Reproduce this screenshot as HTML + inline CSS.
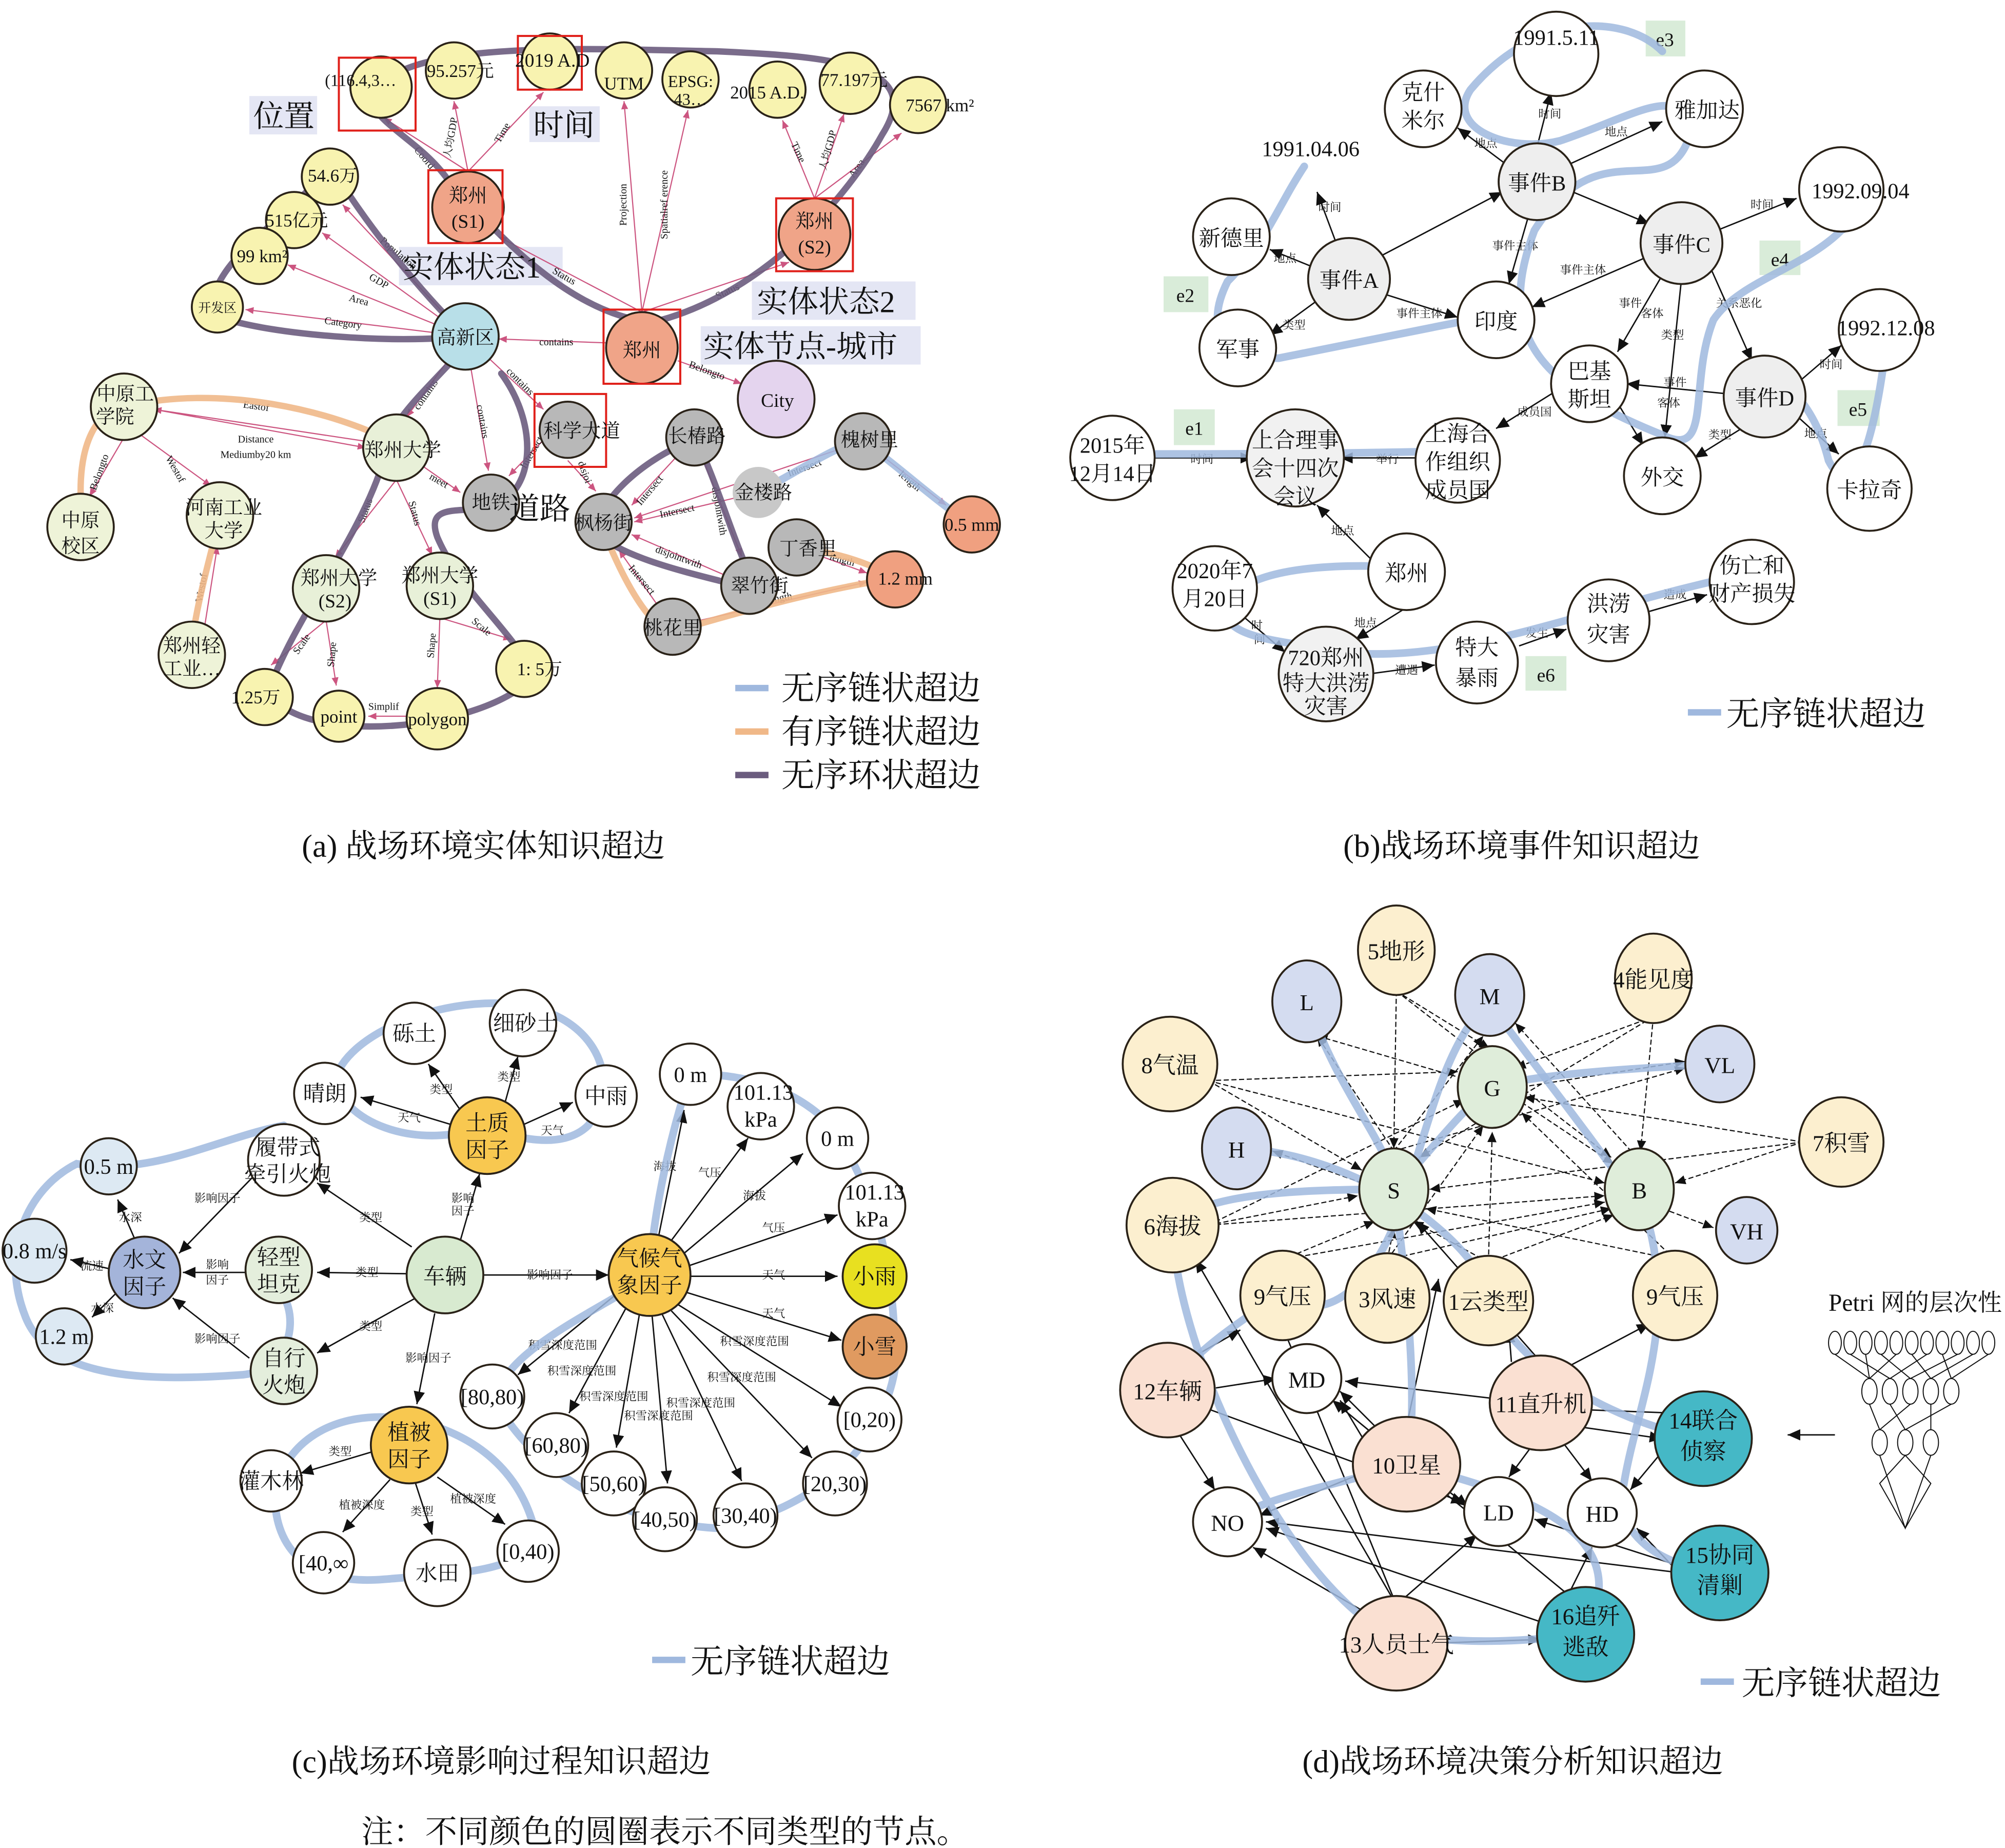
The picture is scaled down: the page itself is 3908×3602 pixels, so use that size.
<!DOCTYPE html>
<html><head><meta charset="utf-8"><style>
html,body{margin:0;padding:0;background:#fff}
svg{display:block}
text{font-family:"Liberation Serif","Noto Serif CJK SC","Noto Sans CJK SC",serif;fill:#111}
.n{stroke:#2a2218;stroke-width:1.5}
.e{stroke:#cc5580;stroke-width:0.9;fill:none}
.k{stroke:#111;stroke-width:1.1;fill:none}
.d{stroke:#111;stroke-width:0.9;fill:none;stroke-dasharray:4 2}
.hb{stroke:#9fb8de;stroke-width:6;fill:none;opacity:.85;stroke-linecap:round}
.ho{stroke:#f0b888;stroke-width:5;fill:none;opacity:.9;stroke-linecap:round}
.hp{stroke:#6b5c7e;stroke-width:5;fill:none;opacity:.9;stroke-linecap:round}
.rb{fill:none;stroke:#e0201a;stroke-width:1.6}
.t{font-size:16px;text-anchor:middle}
.s{font-size:8px;text-anchor:middle}
.lb{font-size:24px}
.lg{font-size:26px}
.cap{font-size:25px;text-anchor:middle}
</style></head><body>
<svg width="3908" height="3602" viewBox="0 0 1568 1445" xmlns="http://www.w3.org/2000/svg">
<defs>
<marker id="a" markerWidth="8" markerHeight="8" refX="7" refY="3" orient="auto"><path d="M0,0 L7,3 L0,6z" fill="#cc5580"/></marker>
<marker id="b" markerWidth="10" markerHeight="10" refX="9" refY="4" orient="auto"><path d="M0,0 L9,4 L0,8z" fill="#111"/></marker>
</defs>
<rect width="1568" height="1445" fill="#fff"/>

<!-- ================= PANEL A ================= -->
<rect x="195" y="75" width="53" height="30" fill="#e4e6f4"/>
<rect x="414" y="83" width="55" height="28" fill="#e4e6f4"/>
<rect x="312" y="193" width="128" height="30" fill="#e4e6f4"/>
<rect x="588" y="220" width="128" height="30" fill="#e4e6f4"/>
<rect x="548" y="255" width="172" height="30" fill="#e4e6f4"/>
<g>
<line class="e" x1="366" y1="134" x2="300" y2="92" marker-end="url(#a)"/>
<line class="e" x1="366" y1="134" x2="355" y2="79" marker-end="url(#a)"/>
<line class="e" x1="366" y1="134" x2="425" y2="72" marker-end="url(#a)"/>
<line class="e" x1="502" y1="244" x2="488" y2="79" marker-end="url(#a)"/>
<line class="e" x1="502" y1="244" x2="538" y2="86" marker-end="url(#a)"/>
<line class="e" x1="637" y1="155" x2="612" y2="94" marker-end="url(#a)"/>
<line class="e" x1="637" y1="155" x2="660" y2="89" marker-end="url(#a)"/>
<line class="e" x1="637" y1="155" x2="705" y2="104" marker-end="url(#a)"/>
<line class="e" x1="502" y1="244" x2="390" y2="185" marker-end="url(#a)"/>
<line class="e" x1="502" y1="244" x2="617" y2="205" marker-end="url(#a)"/>
<line class="e" x1="474" y1="268" x2="390" y2="265" marker-end="url(#a)"/>
<line class="e" x1="530" y1="282" x2="580" y2="300" marker-end="url(#a)"/>
<line class="e" x1="364" y1="263" x2="268" y2="160" marker-end="url(#a)"/>
<line class="e" x1="364" y1="263" x2="252" y2="182" marker-end="url(#a)"/>
<line class="e" x1="364" y1="263" x2="225" y2="207" marker-end="url(#a)"/>
<line class="e" x1="364" y1="263" x2="192" y2="242" marker-end="url(#a)"/>
<line class="e" x1="364" y1="263" x2="318" y2="326" marker-end="url(#a)"/>
<line class="e" x1="364" y1="263" x2="382" y2="368" marker-end="url(#a)"/>
<line class="e" x1="364" y1="263" x2="425" y2="320" marker-end="url(#a)"/>
<line class="e" x1="286" y1="345" x2="120" y2="320" marker-end="url(#a)"/>
<line class="e" x1="120" y1="320" x2="286" y2="350" marker-end="url(#a)"/>
<line class="e" x1="310" y1="350" x2="360" y2="385" marker-end="url(#a)"/>
<line class="e" x1="310" y1="375" x2="262" y2="436" marker-end="url(#a)"/>
<line class="e" x1="310" y1="375" x2="338" y2="434" marker-end="url(#a)"/>
<line class="e" x1="255" y1="485" x2="212" y2="520" marker-end="url(#a)"/>
<line class="e" x1="255" y1="485" x2="263" y2="536" marker-end="url(#a)"/>
<line class="e" x1="344" y1="483" x2="342" y2="538" marker-end="url(#a)"/>
<line class="e" x1="344" y1="483" x2="400" y2="500" marker-end="url(#a)"/>
<line class="e" x1="318" y1="560" x2="288" y2="560" marker-end="url(#a)"/>
<line class="e" x1="97" y1="342" x2="70" y2="388" marker-end="url(#a)"/>
<line class="e" x1="110" y1="340" x2="165" y2="380" marker-end="url(#a)"/>
<line class="e" x1="160" y1="490" x2="170" y2="427" marker-end="url(#a)"/>
<line class="e" x1="444" y1="360" x2="466" y2="384" marker-end="url(#a)"/>
<line class="e" x1="424" y1="345" x2="398" y2="372" marker-end="url(#a)"/>
<line class="e" x1="543" y1="342" x2="494" y2="395" marker-end="url(#a)"/>
<line class="e" x1="593" y1="385" x2="496" y2="408" marker-end="url(#a)"/>
<line class="e" x1="675" y1="345" x2="496" y2="405" marker-end="url(#a)"/>
<line class="e" x1="543" y1="342" x2="580" y2="435" marker-end="url(#a)"/>
<line class="e" x1="586" y1="458" x2="494" y2="418" marker-end="url(#a)"/>
<line class="e" x1="526" y1="490" x2="484" y2="430" marker-end="url(#a)"/>
<line class="e" x1="675" y1="345" x2="740" y2="395" marker-end="url(#a)"/>
<line class="e" x1="623" y1="428" x2="678" y2="448" marker-end="url(#a)"/>
<line class="e" x1="526" y1="490" x2="678" y2="455" marker-end="url(#a)"/>
</g>
<g class="s" style="font-size:8px">
<text x="330" y="125" transform="rotate(50 330 125)">Coord</text>
<text x="355" y="108" transform="rotate(-80 355 108)">人均GDP</text>
<text x="395" y="105" transform="rotate(-60 395 105)">Time</text>
<text x="490" y="160" transform="rotate(-90 490 160)">Projection</text>
<text x="522" y="160" transform="rotate(-90 522 160)">Spatialref erence</text>
<text x="622" y="120" transform="rotate(65 622 120)">Time</text>
<text x="650" y="118" transform="rotate(-75 650 118)">人均GDP</text>
<text x="672" y="133" transform="rotate(-55 672 133)">Area</text>
<text x="440" y="218" transform="rotate(30 440 218)">Status</text>
<text x="570" y="230" transform="rotate(-25 570 230)">Status</text>
<text x="435" y="270">contains</text>
<text x="552" y="292" transform="rotate(20 552 292)">Belongto</text>
<text x="310" y="200" transform="rotate(40 310 200)">Population</text>
<text x="295" y="222" transform="rotate(30 295 222)">GDP</text>
<text x="280" y="237" transform="rotate(15 280 237)">Area</text>
<text x="268" y="255" transform="rotate(8 268 255)">Category</text>
<text x="200" y="320" transform="rotate(8 200 320)">Eastof</text>
<text x="200" y="346">Distance</text>
<text x="200" y="358">Mediumby20 km</text>
<text x="80" y="370" transform="rotate(-70 80 370)">Belongto</text>
<text x="135" y="368" transform="rotate(60 135 368)">Westof</text>
<text x="160" y="460" transform="rotate(-80 160 460)">Westof</text>
<text x="335" y="310" transform="rotate(-55 335 310)">contains</text>
<text x="375" y="330" transform="rotate(80 375 330)">contains</text>
<text x="405" y="300" transform="rotate(45 405 300)">contains</text>
<text x="342" y="378" transform="rotate(30 342 378)">meet</text>
<text x="288" y="400" transform="rotate(-70 288 400)">Status</text>
<text x="322" y="402" transform="rotate(75 322 402)">Status</text>
<text x="238" y="505" transform="rotate(-55 238 505)">Scale</text>
<text x="262" y="512" transform="rotate(-85 262 512)">Shape</text>
<text x="340" y="505" transform="rotate(-85 340 505)">Shape</text>
<text x="375" y="492" transform="rotate(40 375 492)">Scale</text>
<text x="300" y="555">Simplif</text>
<text x="418" y="355" transform="rotate(-60 418 355)">Intersect</text>
<text x="455" y="370" transform="rotate(70 455 370)">disjoi</text>
<text x="510" y="385" transform="rotate(-50 510 385)">Intersect</text>
<text x="530" y="402" transform="rotate(-12 530 402)">Intersect</text>
<text x="560" y="400" transform="rotate(80 560 400)">disjointwith</text>
<text x="530" y="438" transform="rotate(20 530 438)">disjointwith</text>
<text x="500" y="455" transform="rotate(50 500 455)">Intersect</text>
<text x="630" y="368" transform="rotate(-20 630 368)">Intersect</text>
<text x="710" y="378" transform="rotate(40 710 378)">length</text>
<text x="658" y="440" transform="rotate(15 658 440)">length</text>
<text x="610" y="470" transform="rotate(-10 610 470)">length</text>
</g>
<path class="hp" d="M290,80 C300,30 450,38 560,40 C650,44 725,50 690,105 C665,150 600,230 510,252 C440,245 380,172 350,140 C330,112 300,100 290,80"/>
<path class="hp" d="M258,128 C230,170 165,200 165,245 C200,262 320,270 364,262 C330,230 282,170 258,128"/>
<path class="hp" d="M364,270 C340,300 300,330 300,360 C282,420 232,480 210,540 C232,585 380,572 418,528 C398,490 360,462 342,420 C332,392 362,402 386,396 C420,382 420,330 392,292"/>
<path class="hp" d="M540,345 C500,360 458,400 470,420 C500,442 560,452 592,462 C572,420 562,380 545,345"/>
<path class="ho" d="M97,318 C170,300 260,320 312,348"/>
<path class="ho" d="M65,410 C58,360 70,322 97,318"/>
<path class="ho" d="M172,405 C160,450 150,490 150,510"/>
<path class="ho" d="M472,415 C490,460 510,492 526,494 C600,472 650,460 700,452 C680,440 650,430 625,430"/>
<path class="hb" d="M593,385 C630,365 660,345 675,345 C710,370 740,400 765,412"/>
<g class="n">
<circle cx="298" cy="68" r="24" fill="#f8f3b0"/>
<circle cx="355" cy="55" r="22" fill="#f8f3b0"/>
<circle cx="430" cy="48" r="22" fill="#f8f3b0"/>
<circle cx="488" cy="55" r="22" fill="#f8f3b0"/>
<circle cx="540" cy="62" r="22" fill="#f8f3b0"/>
<circle cx="608" cy="70" r="22" fill="#f8f3b0"/>
<circle cx="665" cy="65" r="24" fill="#f8f3b0"/>
<circle cx="718" cy="82" r="22" fill="#f8f3b0"/>
<circle cx="366" cy="162" r="28" fill="#f0a488"/>
<circle cx="637" cy="183" r="28" fill="#f0a488"/>
<circle cx="502" cy="272" r="28" fill="#f0a488"/>
<circle cx="607" cy="312" r="30" fill="#e4d4ee"/>
<circle cx="364" cy="263" r="26" fill="#b8dfe8"/>
<circle cx="258" cy="138" r="22" fill="#f8f3b0"/>
<circle cx="230" cy="172" r="22" fill="#f8f3b0"/>
<circle cx="203" cy="200" r="22" fill="#f8f3b0"/>
<circle cx="170" cy="240" r="20" fill="#f8f3b0"/>
<circle cx="444" cy="336" r="22" fill="#b8b8b8"/>
<circle cx="310" cy="350" r="26" fill="#e8f0d8"/>
<circle cx="384" cy="393" r="22" fill="#b8b8b8"/>
<circle cx="97" cy="318" r="26" fill="#eef3d8"/>
<circle cx="63" cy="412" r="26" fill="#eef3d8"/>
<circle cx="172" cy="403" r="26" fill="#eef3d8"/>
<circle cx="150" cy="512" r="26" fill="#eef3d8"/>
<circle cx="255" cy="460" r="26" fill="#e8f0d8"/>
<circle cx="344" cy="458" r="26" fill="#e8f0d8"/>
<circle cx="207" cy="545" r="22" fill="#f8f3b0"/>
<circle cx="265" cy="560" r="20" fill="#f8f3b0"/>
<circle cx="342" cy="562" r="24" fill="#f8f3b0"/>
<circle cx="410" cy="523" r="22" fill="#f8f3b0"/>
<circle cx="543" cy="342" r="22" fill="#b8b8b8"/>
<circle cx="675" cy="345" r="22" fill="#b8b8b8"/>
<circle cx="593" cy="385" r="20" fill="#c8c8c8" stroke="none"/>
<circle cx="472" cy="408" r="22" fill="#b8b8b8"/>
<circle cx="623" cy="428" r="22" fill="#b8b8b8"/>
<circle cx="586" cy="458" r="22" fill="#b8b8b8"/>
<circle cx="526" cy="490" r="22" fill="#b8b8b8"/>
<circle cx="760" cy="410" r="22" fill="#f0a080"/>
<circle cx="700" cy="453" r="22" fill="#f0a080"/>
</g>
<rect class="rb" x="265" y="45" width="60" height="57"/>
<rect class="rb" x="405" y="28" width="50" height="42"/>
<rect class="rb" x="335" y="133" width="58" height="57"/>
<rect class="rb" x="607" y="155" width="60" height="57"/>
<rect class="rb" x="472" y="242" width="60" height="58"/>
<rect class="rb" x="418" y="308" width="56" height="57"/>
<g class="t" style="font-size:15px">
<text x="282" y="67" style="font-size:13px">(116.4,3…</text>
<text x="360" y="60" style="font-size:14px">95.257元</text>
<text x="432" y="52" style="font-size:15px">2019 A.D</text>
<text x="488" y="70" style="font-size:14px">UTM</text>
<text x="540" y="68" style="font-size:13px">EPSG:</text><text x="540" y="82" style="font-size:13px">43…</text>
<text x="600" y="77" style="font-size:14px">2015 A.D.</text>
<text x="668" y="67" style="font-size:14px">77.197元</text>
<text x="735" y="87" style="font-size:14px">7567 km²</text>
<text x="366" y="158">郑州</text><text x="366" y="178">(S1)</text>
<text x="637" y="178">郑州</text><text x="637" y="198">(S2)</text>
<text x="502" y="279">郑州</text>
<text x="608" y="318">City</text>
<text x="364" y="269">高新区</text>
<text x="260" y="142" style="font-size:14px">54.6万</text>
<text x="232" y="177" style="font-size:14px">515亿元</text>
<text x="205" y="205" style="font-size:14px">99 km²</text>
<text x="170" y="244" style="font-size:10px">开发区</text>
<text x="455" y="342">科学大道</text>
<text x="315" y="357">郑州大学</text>
<text x="384" y="398">地铁</text>
<text x="98" y="313">中原工</text><text x="90" y="331">学院</text>
<text x="63" y="412">中原</text><text x="63" y="432">校区</text>
<text x="175" y="402">河南工业</text><text x="175" y="420">大学</text>
<text x="150" y="510">郑州轻</text><text x="150" y="528">工业…</text>
<text x="265" y="457">郑州大学</text><text x="262" y="475">(S2)</text>
<text x="344" y="455">郑州大学</text><text x="344" y="473">(S1)</text>
<text x="200" y="550" style="font-size:14px">1.25万</text>
<text x="265" y="565" style="font-size:14px">point</text>
<text x="342" y="567" style="font-size:14px">polygon</text>
<text x="422" y="528" style="font-size:14px">1: 5万</text>
<text x="545" y="346">长椿路</text>
<text x="680" y="349">槐树里</text>
<text x="597" y="390">金楼路</text>
<text x="472" y="414">枫杨街</text>
<text x="632" y="434">丁香里</text>
<text x="594" y="463">翠竹街</text>
<text x="526" y="496">桃花里</text>
<text x="760" y="415" style="font-size:14px">0.5 mm</text>
<text x="708" y="457" style="font-size:14px">1.2 mm</text>
</g>
<g class="lb">
<text x="198" y="99">位置</text>
<text x="417" y="106">时间</text>
<text x="315" y="217">实体状态1</text>
<text x="592" y="244">实体状态2</text>
<text x="550" y="279">实体节点-城市</text>
<text x="398" y="406">道路</text>
</g>
<line x1="575" y1="538" x2="601" y2="538" stroke="#9fb8de" stroke-width="5"/>
<line x1="575" y1="572" x2="601" y2="572" stroke="#f0b888" stroke-width="5"/>
<line x1="575" y1="606" x2="601" y2="606" stroke="#6b5c7e" stroke-width="5"/>
<text class="lg" x="611" y="547">无序链状超边</text>
<text class="lg" x="611" y="581">有序链状超边</text>
<text class="lg" x="611" y="615">无序环状超边</text>
<text class="cap" x="378" y="670">(a) 战场环境实体知识超边</text>

<!-- ================= PANEL B ================= -->
<g fill="#d9ecd9">
<rect x="1287" y="16" width="31" height="28"/><rect x="910" y="216" width="35" height="28"/>
<rect x="1376" y="188" width="32" height="27"/><rect x="1437" y="305" width="33" height="28"/>
<rect x="918" y="320" width="32" height="28"/><rect x="1193" y="513" width="32" height="27"/>
</g>
<g class="t" style="font-size:15px"><text x="1302" y="36">e3</text><text x="927" y="236">e2</text><text x="1392" y="208">e4</text><text x="1453" y="325">e5</text><text x="934" y="340">e1</text><text x="1209" y="533">e6</text></g>
<g>
<line class="k" x1="1202" y1="115" x2="1213" y2="72" marker-end="url(#b)"/>
<line class="k" x1="1180" y1="130" x2="1140" y2="100" marker-end="url(#b)"/>
<line class="k" x1="1228" y1="128" x2="1300" y2="95" marker-end="url(#b)"/>
<line class="k" x1="1230" y1="150" x2="1290" y2="175" marker-end="url(#b)"/>
<line class="k" x1="1080" y1="200" x2="1175" y2="150" marker-end="url(#b)"/>
<line class="k" x1="1195" y1="170" x2="1180" y2="222" marker-end="url(#b)"/>
<line class="k" x1="1045" y1="190" x2="1030" y2="150" marker-end="url(#b)"/>
<line class="k" x1="1030" y1="210" x2="993" y2="195" marker-end="url(#b)"/>
<line class="k" x1="1030" y1="235" x2="993" y2="262" marker-end="url(#b)"/>
<line class="k" x1="1083" y1="230" x2="1140" y2="248" marker-end="url(#b)"/>
<line class="k" x1="1343" y1="180" x2="1405" y2="155" marker-end="url(#b)"/>
<line class="k" x1="1290" y1="200" x2="1198" y2="240" marker-end="url(#b)"/>
<line class="k" x1="1300" y1="215" x2="1265" y2="275" marker-end="url(#b)"/>
<line class="k" x1="1315" y1="218" x2="1302" y2="342" marker-end="url(#b)"/>
<line class="k" x1="1338" y1="210" x2="1370" y2="282" marker-end="url(#b)"/>
<line class="k" x1="1405" y1="300" x2="1440" y2="270" marker-end="url(#b)"/>
<line class="k" x1="1370" y1="330" x2="1325" y2="358" marker-end="url(#b)"/>
<line class="k" x1="1405" y1="325" x2="1438" y2="355" marker-end="url(#b)"/>
<line class="k" x1="1352" y1="308" x2="1272" y2="300" marker-end="url(#b)"/>
<line class="k" x1="1265" y1="315" x2="1285" y2="348" marker-end="url(#b)"/>
<line class="k" x1="1218" y1="305" x2="1170" y2="335" marker-end="url(#b)"/>
<line class="k" x1="903" y1="358" x2="980" y2="358" marker-end="url(#b)"/>
<line class="k" x1="1110" y1="358" x2="1048" y2="358" marker-end="url(#b)"/>
<line class="k" x1="1075" y1="440" x2="1030" y2="395" marker-end="url(#b)"/>
<line class="k" x1="1100" y1="475" x2="1060" y2="500" marker-end="url(#b)"/>
<line class="k" x1="970" y1="480" x2="1005" y2="510" marker-end="url(#b)"/>
<line class="k" x1="1070" y1="527" x2="1122" y2="520" marker-end="url(#b)"/>
<line class="k" x1="1188" y1="505" x2="1225" y2="492" marker-end="url(#b)"/>
<line class="k" x1="1290" y1="478" x2="1335" y2="465" marker-end="url(#b)"/>
</g>
<g class="s" style="font-size:9px">
<text x="1212" y="92">时间</text><text x="1162" y="115">地点</text><text x="1264" y="106">地点</text>
<text x="1040" y="165">时间</text><text x="1005" y="205">地点</text><text x="1012" y="257">类型</text>
<text x="1110" y="248">事件主体</text><text x="1238" y="214">事件主体</text><text x="1185" y="195">事件主体</text>
<text x="1378" y="163">时间</text><text x="1432" y="288">时间</text><text x="1420" y="342">地点</text>
<text x="1275" y="240">事件</text><text x="1292" y="248">客体</text><text x="1308" y="265">类型</text><text x="1360" y="240">关系恶化</text>
<text x="1310" y="302">事件</text><text x="1305" y="318">客体</text><text x="1345" y="343">类型</text>
<text x="1200" y="325">成员国</text><text x="940" y="362">时间</text><text x="1085" y="362">举行</text>
<text x="1050" y="418">地点</text><text x="1068" y="490">地点</text><text x="983" y="492">时</text><text x="985" y="503">间</text>
<text x="1100" y="527">遭遇</text><text x="1202" y="498">发生</text><text x="1310" y="468">造成</text>
</g>
<path class="hb" d="M1300,40 C1270,10 1200,10 1150,70 C1130,100 1180,120 1220,110 C1280,90 1320,60 1320,110 C1300,160 1250,100 1200,180 C1170,260 1200,300 1300,340 C1340,360 1320,300 1340,250 C1360,220 1410,210 1440,180 C1460,170 1450,150 1460,150"/>
<path class="hb" d="M1020,130 C1000,160 990,190 960,220 C940,260 960,280 1000,280 C1050,270 1100,260 1150,250"/>
<path class="hb" d="M1380,290 C1400,300 1420,320 1430,360 C1440,380 1460,390 1475,270"/>
<path class="hb" d="M840,355 C950,355 1050,355 1160,352"/>
<path class="hb" d="M1120,445 C1060,440 980,440 960,470 C950,500 1000,500 1050,510 C1150,520 1250,470 1385,445"/>
<g class="n" fill="#fff">
<circle cx="1217" cy="42" r="33"/><circle cx="1113" cy="85" r="30"/><circle cx="1333" cy="85" r="30"/>
<circle cx="1202" cy="142" r="30" fill="#eeeeee"/><circle cx="1440" cy="148" r="33"/>
<circle cx="963" cy="185" r="30"/><circle cx="1055" cy="218" r="32" fill="#eeeeee"/><circle cx="1315" cy="190" r="32" fill="#eeeeee"/>
<circle cx="1170" cy="250" r="30"/><circle cx="968" cy="272" r="30"/><circle cx="1470" cy="258" r="32"/>
<circle cx="1243" cy="300" r="30"/><circle cx="1380" cy="310" r="32" fill="#eeeeee"/><circle cx="1300" cy="372" r="30"/>
<circle cx="1462" cy="382" r="33"/><circle cx="870" cy="358" r="33"/><circle cx="1013" cy="358" r="38" fill="#f1f1f1"/>
<circle cx="1140" cy="360" r="33"/><circle cx="1100" cy="447" r="30"/><circle cx="950" cy="460" r="33"/>
<circle cx="1037" cy="527" r="37" fill="#f1f1f1"/><circle cx="1155" cy="518" r="32"/><circle cx="1258" cy="485" r="32"/><circle cx="1370" cy="455" r="33"/>
</g>
<g class="t" style="font-size:17px">
<text x="1217" y="35">1991.5.11</text>
<text x="1113" y="78">克什</text><text x="1113" y="100">米尔</text>
<text x="1335" y="92">雅加达</text><text x="1202" y="149">事件B</text>
<text x="1025" y="122">1991.04.06</text><text x="1455" y="155">1992.09.04</text>
<text x="963" y="192">新德里</text><text x="1055" y="225">事件A</text><text x="1315" y="197">事件C</text>
<text x="1170" y="257">印度</text><text x="968" y="279">军事</text><text x="1475" y="262">1992.12.08</text>
<text x="1243" y="296">巴基</text><text x="1243" y="318">斯坦</text><text x="1380" y="317">事件D</text>
<text x="1300" y="379">外交</text><text x="1462" y="389">卡拉奇</text>
<text x="870" y="354">2015年</text><text x="870" y="376">12月14日</text>
<text x="1013" y="350">上合理事</text><text x="1013" y="372">会十四次</text><text x="1013" y="394">会议</text>
<text x="1140" y="345">上海合</text><text x="1140" y="367">作组织</text><text x="1140" y="389">成员国</text>
<text x="1100" y="454">郑州</text><text x="950" y="452">2020年7</text><text x="950" y="474">月20日</text>
<text x="1037" y="520">720郑州</text><text x="1037" y="540">特大洪涝</text><text x="1037" y="558">灾害</text>
<text x="1155" y="512">特大</text><text x="1155" y="536">暴雨</text><text x="1258" y="478">洪涝</text><text x="1258" y="502">灾害</text>
<text x="1370" y="448">伤亡和</text><text x="1370" y="470">财产损失</text>
</g>
<line x1="1320" y1="557" x2="1346" y2="557" stroke="#9fb8de" stroke-width="5"/>
<text class="lg" x="1350" y="567">无序链状超边</text>
<text class="cap" x="1190" y="670">(b)战场环境事件知识超边</text>

<!-- ================= PANEL C ================= -->
<g>
<line class="k" x1="360" y1="970" x2="375" y2="918" marker-end="url(#b)"/>
<line class="k" x1="360" y1="868" x2="335" y2="832" marker-end="url(#b)"/>
<line class="k" x1="395" y1="862" x2="405" y2="826" marker-end="url(#b)"/>
<line class="k" x1="355" y1="880" x2="282" y2="858" marker-end="url(#b)"/>
<line class="k" x1="408" y1="880" x2="448" y2="862" marker-end="url(#b)"/>
<line class="k" x1="322" y1="975" x2="248" y2="925" marker-end="url(#b)"/>
<line class="k" x1="318" y1="996" x2="248" y2="995" marker-end="url(#b)"/>
<line class="k" x1="325" y1="1015" x2="248" y2="1058" marker-end="url(#b)"/>
<line class="k" x1="378" y1="997" x2="476" y2="997" marker-end="url(#b)"/>
<line class="k" x1="340" y1="1027" x2="326" y2="1098" marker-end="url(#b)"/>
<line class="k" x1="200" y1="918" x2="140" y2="980" marker-end="url(#b)"/>
<line class="k" x1="192" y1="995" x2="143" y2="995" marker-end="url(#b)"/>
<line class="k" x1="195" y1="1062" x2="135" y2="1015" marker-end="url(#b)"/>
<line class="k" x1="105" y1="968" x2="92" y2="938" marker-end="url(#b)"/>
<line class="k" x1="85" y1="992" x2="55" y2="985" marker-end="url(#b)"/>
<line class="k" x1="90" y1="1012" x2="72" y2="1030" marker-end="url(#b)"/>
<line class="k" x1="292" y1="1135" x2="235" y2="1152" marker-end="url(#b)"/>
<line class="k" x1="305" y1="1157" x2="268" y2="1198" marker-end="url(#b)"/>
<line class="k" x1="325" y1="1160" x2="338" y2="1200" marker-end="url(#b)"/>
<line class="k" x1="342" y1="1155" x2="395" y2="1192" marker-end="url(#b)"/>
<line class="k" x1="515" y1="967" x2="535" y2="868" marker-end="url(#b)"/>
<line class="k" x1="525" y1="970" x2="585" y2="890" marker-end="url(#b)"/>
<line class="k" x1="535" y1="980" x2="628" y2="902" marker-end="url(#b)"/>
<line class="k" x1="538" y1="990" x2="655" y2="950" marker-end="url(#b)"/>
<line class="k" x1="540" y1="998" x2="655" y2="998" marker-end="url(#b)"/>
<line class="k" x1="535" y1="1010" x2="658" y2="1048" marker-end="url(#b)"/>
<line class="k" x1="530" y1="1020" x2="658" y2="1100" marker-end="url(#b)"/>
<line class="k" x1="525" y1="1025" x2="635" y2="1140" marker-end="url(#b)"/>
<line class="k" x1="518" y1="1028" x2="580" y2="1158" marker-end="url(#b)"/>
<line class="k" x1="510" y1="1029" x2="522" y2="1160" marker-end="url(#b)"/>
<line class="k" x1="500" y1="1028" x2="482" y2="1132" marker-end="url(#b)"/>
<line class="k" x1="490" y1="1022" x2="445" y2="1105" marker-end="url(#b)"/>
<line class="k" x1="482" y1="1012" x2="405" y2="1075" marker-end="url(#b)"/>
</g>
<g class="s" style="font-size:9px">
<text x="362" y="940">影响</text><text x="362" y="950">因子</text><text x="345" y="855">类型</text><text x="398" y="845">类型</text>
<text x="320" y="877">天气</text><text x="432" y="887">天气</text><text x="290" y="955">类型</text><text x="287" y="998">类型</text><text x="290" y="1040">类型</text>
<text x="430" y="1000">影响因子</text><text x="335" y="1065">影响因子</text><text x="170" y="940">影响因子</text><text x="170" y="992">影响</text><text x="170" y="1004">因子</text><text x="170" y="1050">影响因子</text>
<text x="102" y="955">水深</text><text x="72" y="993">流速</text><text x="80" y="1026">水深</text>
<text x="266" y="1138">类型</text><text x="283" y="1180">植被深度</text><text x="330" y="1185">类型</text><text x="370" y="1175">植被深度</text>
<text x="520" y="915">海拔</text><text x="555" y="920">气压</text><text x="590" y="938">海拔</text><text x="605" y="963">气压</text><text x="605" y="1000">天气</text><text x="605" y="1030">天气</text>
<text x="590" y="1052">积雪深度范围</text><text x="440" y="1055">积雪深度范围</text><text x="455" y="1075">积雪深度范围</text><text x="480" y="1095">积雪深度范围</text><text x="515" y="1110">积雪深度范围</text><text x="548" y="1100">积雪深度范围</text><text x="580" y="1080">积雪深度范围</text>
</g>
<path class="hb" d="M380,880 C330,900 270,880 262,845 C270,810 340,780 400,785 C460,790 490,840 460,880 C440,900 400,890 380,880"/>
<path class="hb" d="M222,880 C170,890 120,920 60,910 C20,930 0,980 20,1030 C40,1080 120,1080 190,1075 C240,1070 235,1000 200,1000"/>
<path class="hb" d="M320,1110 C260,1100 220,1130 215,1170 C215,1210 240,1240 300,1235 C360,1230 400,1230 420,1205 C410,1150 370,1120 320,1110"/>
<path class="hb" d="M540,840 C520,900 510,960 508,997 C480,1020 380,1060 390,1100 C420,1150 480,1190 560,1195 C640,1180 690,1130 700,1070 C700,1000 690,940 650,880 C610,840 560,840 540,840"/>
<g class="n">
<circle cx="324" cy="808" r="24" fill="#fff"/><circle cx="409" cy="800" r="26" fill="#fff"/><circle cx="254" cy="855" r="24" fill="#fff"/>
<circle cx="474" cy="857" r="24" fill="#fff"/><circle cx="381" cy="888" r="30" fill="#f8c850"/><circle cx="222" cy="907" r="28" fill="#fff"/>
<circle cx="85" cy="912" r="22" fill="#dde9f3"/><circle cx="27" cy="978" r="25" fill="#dde9f3"/><circle cx="113" cy="995" r="28" fill="#a4b4da"/>
<circle cx="218" cy="993" r="26" fill="#e4eedc"/><circle cx="348" cy="997" r="30" fill="#d8ead0"/><circle cx="50" cy="1045" r="22" fill="#dde9f3"/>
<circle cx="222" cy="1072" r="26" fill="#e4eedc"/><circle cx="320" cy="1130" r="30" fill="#f8c850"/><circle cx="212" cy="1158" r="24" fill="#fff"/>
<circle cx="253" cy="1222" r="24" fill="#fff"/><circle cx="342" cy="1230" r="26" fill="#fff"/><circle cx="413" cy="1213" r="24" fill="#fff"/>
<circle cx="508" cy="997" r="32" fill="#f8c850"/><circle cx="540" cy="840" r="24" fill="#fff"/><circle cx="595" cy="865" r="26" fill="#fff"/>
<circle cx="655" cy="890" r="24" fill="#fff"/><circle cx="682" cy="943" r="26" fill="#fff"/><circle cx="684" cy="998" r="25" fill="#e8e020"/>
<circle cx="684" cy="1053" r="25" fill="#e09a60"/><circle cx="385" cy="1092" r="25" fill="#fff"/><circle cx="435" cy="1130" r="25" fill="#fff"/>
<circle cx="480" cy="1160" r="25" fill="#fff"/><circle cx="520" cy="1188" r="25" fill="#fff"/><circle cx="583" cy="1185" r="25" fill="#fff"/>
<circle cx="653" cy="1160" r="25" fill="#fff"/><circle cx="680" cy="1110" r="25" fill="#fff"/>
</g>
<g class="t" style="font-size:17px">
<text x="324" y="814">砾土</text><text x="411" y="806">细砂土</text><text x="254" y="861">晴朗</text><text x="474" y="863">中雨</text>
<text x="381" y="884">土质</text><text x="381" y="905">因子</text><text x="225" y="903">履带式</text><text x="225" y="924">牵引火炮</text>
<text x="85" y="918">0.5 m</text><text x="27" y="984">0.8 m/s</text><text x="113" y="991">水文</text><text x="113" y="1012">因子</text>
<text x="218" y="989">轻型</text><text x="218" y="1010">坦克</text><text x="348" y="1004">车辆</text><text x="50" y="1051">1.2 m</text>
<text x="222" y="1068">自行</text><text x="222" y="1089">火炮</text><text x="320" y="1126">植被</text><text x="320" y="1147">因子</text>
<text x="212" y="1164">灌木林</text><text x="253" y="1228">[40,∞</text><text x="342" y="1236">水田</text><text x="413" y="1219">[0,40)</text>
<text x="508" y="990">气候气</text><text x="508" y="1011">象因子</text><text x="540" y="846">0 m</text>
<text x="597" y="860">101.13</text><text x="595" y="881">kPa</text><text x="655" y="896">0 m</text><text x="684" y="938">101.13</text><text x="682" y="959">kPa</text>
<text x="684" y="1004">小雨</text><text x="684" y="1059">小雪</text><text x="385" y="1098">[80,80)</text><text x="435" y="1136">[60,80)</text>
<text x="480" y="1166">[50,60)</text><text x="520" y="1194">[40,50)</text><text x="583" y="1191">[30,40)</text><text x="653" y="1166">[20,30)</text><text x="680" y="1116">[0,20)</text>
</g>
<line x1="510" y1="1298" x2="536" y2="1298" stroke="#9fb8de" stroke-width="5"/>
<text class="lg" x="540" y="1308">无序链状超边</text>
<text class="cap" x="392" y="1386">(c)战场环境影响过程知识超边</text>
<text class="cap" x="520" y="1441">注：不同颜色的圆圈表示不同类型的节点。</text>

<!-- ================= PANEL D ================= -->
<g>
<line class="d" x1="1092" y1="775" x2="1165" y2="820" marker-end="url(#b)"/>
<line class="d" x1="1092" y1="775" x2="1090" y2="898" marker-end="url(#b)"/>
<line class="d" x1="1092" y1="775" x2="1260" y2="905" marker-end="url(#b)"/>
<line class="d" x1="1293" y1="795" x2="1185" y2="835" marker-end="url(#b)"/>
<line class="d" x1="1293" y1="795" x2="1110" y2="905" marker-end="url(#b)"/>
<line class="d" x1="1293" y1="795" x2="1283" y2="900" marker-end="url(#b)"/>
<line class="d" x1="945" y1="845" x2="1140" y2="838" marker-end="url(#b)"/>
<line class="d" x1="945" y1="845" x2="1065" y2="915" marker-end="url(#b)"/>
<line class="d" x1="945" y1="845" x2="1255" y2="925" marker-end="url(#b)"/>
<line class="d" x1="1410" y1="893" x2="1192" y2="858" marker-end="url(#b)"/>
<line class="d" x1="1410" y1="893" x2="1118" y2="930" marker-end="url(#b)"/>
<line class="d" x1="1410" y1="893" x2="1310" y2="925" marker-end="url(#b)"/>
<line class="d" x1="945" y1="958" x2="1062" y2="935" marker-end="url(#b)"/>
<line class="d" x1="945" y1="958" x2="1145" y2="860" marker-end="url(#b)"/>
<line class="d" x1="945" y1="958" x2="1255" y2="935" marker-end="url(#b)"/>
<line class="d" x1="1003" y1="985" x2="1075" y2="955" marker-end="url(#b)"/>
<line class="d" x1="1003" y1="985" x2="1255" y2="940" marker-end="url(#b)"/>
<line class="d" x1="1085" y1="985" x2="1090" y2="960" marker-end="url(#b)"/>
<line class="d" x1="1085" y1="985" x2="1160" y2="880" marker-end="url(#b)"/>
<line class="d" x1="1085" y1="985" x2="1260" y2="945" marker-end="url(#b)"/>
<line class="d" x1="1164" y1="987" x2="1105" y2="955" marker-end="url(#b)"/>
<line class="d" x1="1164" y1="987" x2="1167" y2="885" marker-end="url(#b)"/>
<line class="d" x1="1164" y1="987" x2="1262" y2="950" marker-end="url(#b)"/>
<line class="d" x1="1310" y1="985" x2="1115" y2="945" marker-end="url(#b)"/>
<line class="d" x1="1310" y1="985" x2="1190" y2="870" marker-end="url(#b)"/>
<line class="d" x1="1090" y1="900" x2="1030" y2="810" marker-end="url(#b)"/>
<line class="d" x1="1090" y1="900" x2="1160" y2="810" marker-end="url(#b)"/>
<line class="d" x1="1090" y1="900" x2="1318" y2="835" marker-end="url(#b)"/>
<line class="d" x1="1065" y1="925" x2="995" y2="900" marker-end="url(#b)"/>
<line class="d" x1="1167" y1="850" x2="1030" y2="810" marker-end="url(#b)"/>
<line class="d" x1="1190" y1="850" x2="1318" y2="830" marker-end="url(#b)"/>
<line class="d" x1="1190" y1="862" x2="1262" y2="910" marker-end="url(#b)"/>
<line class="d" x1="1280" y1="905" x2="1185" y2="800" marker-end="url(#b)"/>
<line class="d" x1="1300" y1="945" x2="1340" y2="960" marker-end="url(#b)"/>
<line class="k" x1="1205" y1="1065" x2="1108" y2="955" marker-end="url(#b)"/>
<line class="k" x1="1220" y1="1072" x2="1290" y2="1035" marker-end="url(#b)"/>
<line class="k" x1="1180" y1="1095" x2="1052" y2="1080" marker-end="url(#b)"/>
<line class="k" x1="1182" y1="1065" x2="1180" y2="1040" marker-end="url(#b)"/>
<line class="k" x1="1230" y1="1115" x2="1300" y2="1125" marker-end="url(#b)"/>
<line class="k" x1="1200" y1="1128" x2="1180" y2="1155" marker-end="url(#b)"/>
<line class="k" x1="1220" y1="1125" x2="1245" y2="1158" marker-end="url(#b)"/>
<line class="k" x1="1100" y1="1115" x2="1125" y2="1000" marker-end="url(#b)"/>
<line class="k" x1="1075" y1="1140" x2="1048" y2="1095" marker-end="url(#b)"/>
<line class="k" x1="1070" y1="1150" x2="985" y2="1185" marker-end="url(#b)"/>
<line class="k" x1="1125" y1="1160" x2="1148" y2="1178" marker-end="url(#b)"/>
<line class="k" x1="1080" y1="1120" x2="1048" y2="1088" marker-end="url(#b)"/>
<line class="k" x1="940" y1="1087" x2="998" y2="1078" marker-end="url(#b)"/>
<line class="k" x1="935" y1="1060" x2="970" y2="1040" marker-end="url(#b)"/>
<line class="k" x1="918" y1="1115" x2="950" y2="1165" marker-end="url(#b)"/>
<line class="k" x1="940" y1="1100" x2="1145" y2="1175" marker-end="url(#b)"/>
<line class="k" x1="1315" y1="1232" x2="1280" y2="1195" marker-end="url(#b)"/>
<line class="k" x1="1315" y1="1230" x2="990" y2="1190" marker-end="url(#b)"/>
<line class="k" x1="1315" y1="1225" x2="1200" y2="1188" marker-end="url(#b)"/>
<line class="k" x1="1210" y1="1270" x2="990" y2="1195" marker-end="url(#b)"/>
<line class="k" x1="1225" y1="1250" x2="1245" y2="1210" marker-end="url(#b)"/>
<line class="k" x1="1230" y1="1250" x2="1042" y2="1095" marker-end="url(#b)"/>
<line class="k" x1="1075" y1="1265" x2="980" y2="1210" marker-end="url(#b)"/>
<line class="k" x1="1092" y1="1255" x2="1155" y2="1200" marker-end="url(#b)"/>
<line class="k" x1="1092" y1="1255" x2="1000" y2="1030" marker-end="url(#b)"/>
<line class="k" x1="1092" y1="1255" x2="935" y2="985" marker-end="url(#b)"/>
<line class="k" x1="1120" y1="1285" x2="1205" y2="1282" marker-end="url(#b)"/>
<line class="k" x1="1300" y1="1135" x2="1275" y2="1165" marker-end="url(#b)"/>
<line class="k" x1="1310" y1="1105" x2="1175" y2="1100" marker-end="url(#b)"/>
<line class="k" x1="1435" y1="1122" x2="1398" y2="1122" marker-end="url(#b)"/>
</g>
<path class="hb" d="M1025,790 C1050,860 1090,900 1090,930 C1100,1000 1110,1100 1100,1145"/>
<path class="hb" d="M1162,785 C1130,820 1120,870 1100,930 C1080,1000 1040,1040 1000,1013 C960,1040 930,1060 915,1087"/>
<path class="hb" d="M1165,785 C1220,860 1270,920 1290,960 C1310,1040 1280,1100 1270,1160 C1260,1200 1300,1225 1345,1230"/>
<path class="hb" d="M967,898 C1020,900 1060,920 1090,935 C1130,960 1160,990 1165,1017 C1180,1060 1250,1110 1332,1125"/>
<path class="hb" d="M917,958 C940,935 1000,930 1090,930 C1120,900 1140,870 1167,850 C1200,840 1280,835 1345,832"/>
<path class="hb" d="M917,960 C920,1050 990,1200 1060,1260 C1100,1290 1180,1285 1240,1278 C1280,1200 1200,1170 1100,1145 C1050,1160 990,1170 960,1190"/>
<g class="n">
<ellipse cx="1022" cy="783" rx="27" ry="32" fill="#d4dcf0"/><ellipse cx="1165" cy="778" rx="27" ry="32" fill="#d4dcf0"/>
<ellipse cx="1092" cy="743" rx="30" ry="35" fill="#fcefcf"/><ellipse cx="1293" cy="765" rx="30" ry="35" fill="#fcefcf"/>
<ellipse cx="915" cy="832" rx="37" ry="37" fill="#fcefcf"/><ellipse cx="1167" cy="850" rx="27" ry="32" fill="#dfedda"/>
<ellipse cx="1345" cy="832" rx="27" ry="30" fill="#d4dcf0"/><ellipse cx="1440" cy="893" rx="33" ry="35" fill="#fcefcf"/>
<ellipse cx="967" cy="898" rx="27" ry="32" fill="#d4dcf0"/><ellipse cx="1090" cy="930" rx="27" ry="32" fill="#dfedda"/>
<ellipse cx="1282" cy="930" rx="27" ry="32" fill="#dfedda"/><ellipse cx="1366" cy="962" rx="24" ry="26" fill="#d4dcf0"/>
<ellipse cx="917" cy="958" rx="36" ry="37" fill="#fcefcf"/><ellipse cx="1003" cy="1013" rx="33" ry="35" fill="#fcefcf"/>
<ellipse cx="1085" cy="1015" rx="33" ry="35" fill="#fcefcf"/><ellipse cx="1164" cy="1017" rx="35" ry="35" fill="#fcefcf"/>
<ellipse cx="1310" cy="1013" rx="33" ry="35" fill="#fcefcf"/><ellipse cx="913" cy="1087" rx="37" ry="37" fill="#fae0d2"/>
<ellipse cx="1022" cy="1078" rx="27" ry="27" fill="#fff"/><ellipse cx="1205" cy="1097" rx="40" ry="37" fill="#fae0d2"/>
<ellipse cx="1332" cy="1125" rx="38" ry="37" fill="#45b8c6"/><ellipse cx="1100" cy="1145" rx="42" ry="37" fill="#fae0d2"/>
<ellipse cx="960" cy="1190" rx="27" ry="27" fill="#fff"/><ellipse cx="1172" cy="1182" rx="27" ry="27" fill="#fff"/>
<ellipse cx="1253" cy="1183" rx="27" ry="27" fill="#fff"/><ellipse cx="1345" cy="1230" rx="38" ry="37" fill="#45b8c6"/>
<ellipse cx="1240" cy="1278" rx="38" ry="37" fill="#45b8c6"/><ellipse cx="1092" cy="1285" rx="40" ry="37" fill="#fae0d2"/>
</g>
<g class="t" style="font-size:18px">
<text x="1022" y="790">L</text><text x="1165" y="785">M</text><text x="1092" y="750">5地形</text><text x="1293" y="772">4能见度</text>
<text x="915" y="839">8气温</text><text x="1167" y="857">G</text><text x="1345" y="839">VL</text><text x="1440" y="900">7积雪</text>
<text x="967" y="905">H</text><text x="1090" y="937">S</text><text x="1282" y="937">B</text><text x="1366" y="969">VH</text>
<text x="917" y="965">6海拔</text><text x="1003" y="1020">9气压</text><text x="1085" y="1022">3风速</text><text x="1164" y="1024">1云类型</text>
<text x="1310" y="1020">9气压</text><text x="913" y="1094">12车辆</text><text x="1022" y="1085">MD</text><text x="1205" y="1104">11直升机</text>
<text x="1332" y="1117">14联合</text><text x="1332" y="1141">侦察</text><text x="1100" y="1152">10卫星</text><text x="960" y="1197">NO</text>
<text x="1172" y="1189">LD</text><text x="1253" y="1190">HD</text><text x="1345" y="1222">15协同</text><text x="1345" y="1246">清剿</text>
<text x="1240" y="1270">16追歼</text><text x="1240" y="1294">逃敌</text><text x="1092" y="1292">13人员士气</text>
</g>
<text x="1430" y="1025" style="font-size:19px">Petri 网的层次性</text>
<g fill="#fff" stroke="#111" stroke-width="0.8">
<ellipse cx="1435" cy="1050" rx="5" ry="9"/><ellipse cx="1447" cy="1050" rx="5" ry="9"/><ellipse cx="1459" cy="1050" rx="5" ry="9"/><ellipse cx="1471" cy="1050" rx="5" ry="9"/><ellipse cx="1483" cy="1050" rx="5" ry="9"/><ellipse cx="1495" cy="1050" rx="5" ry="9"/><ellipse cx="1507" cy="1050" rx="5" ry="9"/><ellipse cx="1519" cy="1050" rx="5" ry="9"/><ellipse cx="1531" cy="1050" rx="5" ry="9"/><ellipse cx="1543" cy="1050" rx="5" ry="9"/><ellipse cx="1555" cy="1050" rx="5" ry="9"/>
<ellipse cx="1462" cy="1088" rx="6" ry="10"/><ellipse cx="1478" cy="1088" rx="6" ry="10"/><ellipse cx="1494" cy="1088" rx="6" ry="10"/><ellipse cx="1510" cy="1088" rx="6" ry="10"/><ellipse cx="1526" cy="1088" rx="6" ry="10"/>
<ellipse cx="1470" cy="1128" rx="6" ry="10"/><ellipse cx="1490" cy="1128" rx="6" ry="10"/><ellipse cx="1510" cy="1128" rx="6" ry="10"/>
<path d="M1435,1059 L1462,1078 M1447,1059 L1478,1078 M1471,1059 L1494,1078 M1495,1059 L1510,1078 M1519,1059 L1526,1078 M1555,1059 L1526,1078 M1543,1059 L1510,1078 M1459,1059 L1462,1078 M1531,1059 L1494,1078 M1483,1059 L1462,1078 M1507,1059 L1478,1078 M1462,1098 L1470,1118 M1478,1098 L1490,1118 M1494,1098 L1470,1118 M1510,1098 L1510,1118 M1526,1098 L1490,1118 M1470,1138 L1490,1195 L1510,1138 M1490,1138 L1470,1160 L1490,1195 M1490,1138 L1510,1160 L1490,1195" fill="none"/>
</g>
<line x1="1330" y1="1315" x2="1356" y2="1315" stroke="#9fb8de" stroke-width="5"/>
<text class="lg" x="1362" y="1325">无序链状超边</text>
<text class="cap" x="1183" y="1386">(d)战场环境决策分析知识超边</text>
</svg>
</body></html>
